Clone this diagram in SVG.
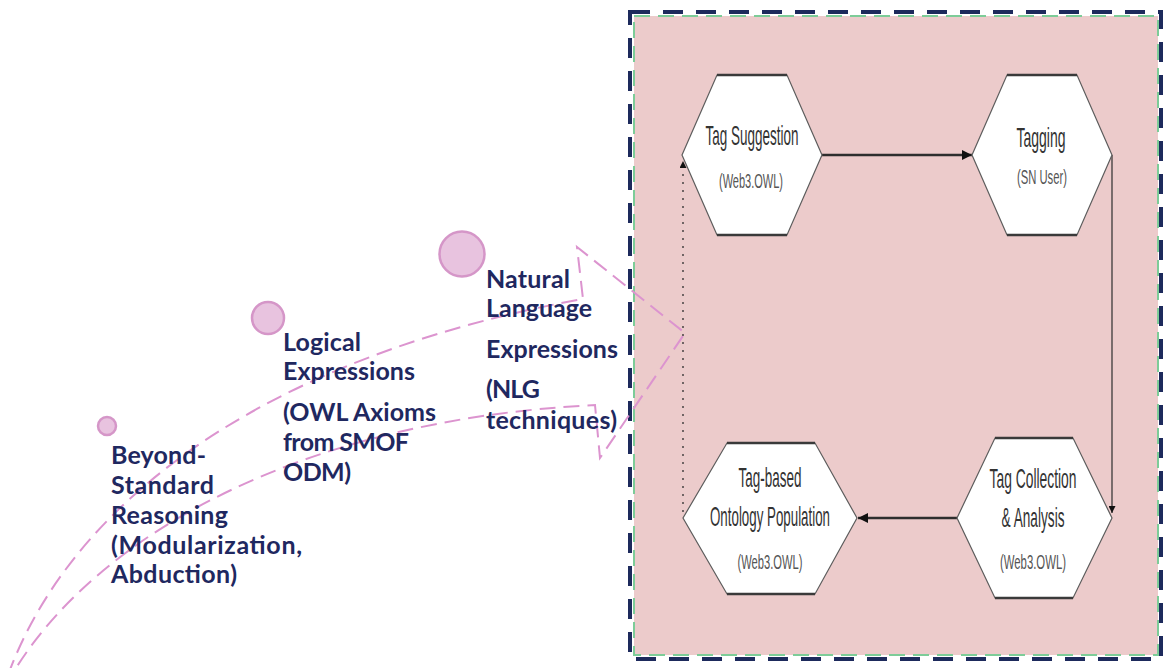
<svg xmlns="http://www.w3.org/2000/svg" width="1164" height="668" viewBox="0 0 1164 668">
  <style>
    .step { font-family: "Lato", "Liberation Sans", sans-serif; font-weight: 700; font-size: 25px; fill: #1f2860; }
    .dot { fill: #e8c3df; stroke: #d596c8; stroke-width: 2.5; }
    .flow { fill: none; stroke: #dc94cf; stroke-width: 2; stroke-dasharray: 16 8; }
    .hex { fill: #ffffff; stroke: #5c5c5c; stroke-width: 1.2; }
    .hex-edge { stroke: #3a3a3a; stroke-width: 2.5; }
    .lbl { font-family: "Liberation Sans", Arial, sans-serif; font-size: 28px; fill: #333333; text-anchor: middle; }
    .sub { font-family: "Liberation Sans", Arial, sans-serif; font-size: 21px; fill: #555555; text-anchor: middle; }
    .conn { fill: none; stroke: #2e2e2e; }
  </style>
  <defs>
    <marker id="arrowBold" viewBox="0 0 10 10" refX="10" refY="5" markerWidth="10" markerHeight="10" markerUnits="userSpaceOnUse" orient="auto">
      <path d="M0,0 L10,5 L0,10 z" fill="#111111"/>
    </marker>
    <marker id="arrowThin" viewBox="0 0 10 10" refX="10" refY="5" markerWidth="15" markerHeight="7" markerUnits="userSpaceOnUse" orient="auto">
      <path d="M0,0 L10,5 L0,10 z" fill="#111111"/>
    </marker>
  </defs>

  <!-- framed process area -->
  <g id="process-frame">
    <rect x="634" y="16" width="524" height="639" fill="#eccbcb" stroke="#7dcc98" stroke-width="2" stroke-dasharray="16 8"/>
    <rect x="630" y="12" width="531" height="647" fill="none" stroke="#1d2a5c" stroke-width="4" stroke-dasharray="20 13"/>
  </g>

  <!-- dashed curved arrow of levels -->
  <g id="level-arrow">
    <path class="flow" d="M 8 675 C 80 480, 300 350, 583 299 L 577 247 L 685 333 L 600 458 L 595 405 C 300 420, 100 535, 16 668"/>
  </g>

  <g id="level-beyond">
    <circle class="dot" cx="107" cy="426" r="9"/>
    <text class="step" x="111" y="464" textLength="95">Beyond-</text>
    <text class="step" x="111" y="494" textLength="103">Standard</text>
    <text class="step" x="111" y="524" textLength="117">Reasoning</text>
    <text class="step" x="111" y="554" textLength="191">(Modularization,</text>
    <text class="step" x="111" y="583" textLength="126">Abduction)</text>
  </g>

  <g id="level-logical">
    <circle class="dot" cx="268" cy="318" r="16"/>
    <text class="step" x="283" y="351" textLength="78">Logical</text>
    <text class="step" x="283" y="380" textLength="132">Expressions</text>
    <text class="step" x="283" y="421" textLength="153">(OWL Axioms</text>
    <text class="step" x="283" y="451" textLength="126">from SMOF</text>
    <text class="step" x="283" y="481" textLength="68">ODM)</text>
  </g>

  <g id="level-natural">
    <circle class="dot" cx="462" cy="254" r="22.5"/>
    <text class="step" x="486" y="288" textLength="84">Natural</text>
    <text class="step" x="486" y="317" textLength="106">Language</text>
    <text class="step" x="486" y="358" textLength="132">Expressions</text>
    <text class="step" x="486" y="398" textLength="54">(NLG</text>
    <text class="step" x="486" y="429" textLength="131">techniques)</text>
  </g>

  <!-- connectors between the process steps -->
  <g id="connectors">
    <path class="conn" d="M 822 155 H 972" stroke-width="2.6" marker-end="url(#arrowBold)"/>
    <path class="conn" d="M 1112 155 V 513" stroke-width="1.2" marker-end="url(#arrowThin)"/>
    <path class="conn" d="M 957 518 H 858" stroke-width="2.6" marker-end="url(#arrowBold)"/>
    <path class="conn" d="M 683 512 V 161" stroke="#808080" stroke-width="1.3" stroke-dasharray="2 6" marker-end="url(#arrowThin)"/>
  </g>

  <g id="tag-suggestion">
    <polygon class="hex" points="717,75 787,75 822,155 787,235 717,235 682,155"/>
    <line class="hex-edge" x1="717" y1="75" x2="787" y2="75"/>
    <line class="hex-edge" x1="717" y1="235" x2="787" y2="235"/>
    <text class="lbl" x="752" y="145" textLength="93" lengthAdjust="spacingAndGlyphs">Tag Suggestion</text>
    <text class="sub" x="751" y="188" textLength="64" lengthAdjust="spacingAndGlyphs">(Web3.OWL)</text>
  </g>

  <g id="tagging">
    <polygon class="hex" points="1007,75 1077,75 1112,155 1077,235 1007,235 972,155"/>
    <line class="hex-edge" x1="1007" y1="75" x2="1077" y2="75"/>
    <line class="hex-edge" x1="1007" y1="235" x2="1077" y2="235"/>
    <text class="lbl" x="1041" y="147" textLength="49" lengthAdjust="spacingAndGlyphs">Tagging</text>
    <text class="sub" x="1042" y="184" textLength="50" lengthAdjust="spacingAndGlyphs">(SN User)</text>
  </g>

  <g id="tag-collection">
    <polygon class="hex" points="995,438 1073,438 1112,518 1073,598 995,598 957,518"/>
    <line class="hex-edge" x1="995" y1="438" x2="1073" y2="438"/>
    <line class="hex-edge" x1="995" y1="598" x2="1073" y2="598"/>
    <text class="lbl" x="1033" y="488" textLength="87" lengthAdjust="spacingAndGlyphs">Tag Collection</text>
    <text class="lbl" x="1033" y="527" textLength="63" lengthAdjust="spacingAndGlyphs">&amp; Analysis</text>
    <text class="sub" x="1033" y="569" textLength="66" lengthAdjust="spacingAndGlyphs">(Web3.OWL)</text>
  </g>

  <g id="tag-ontology-population">
    <polygon class="hex" points="727,443 815,443 857,518 815,594 727,594 683,518"/>
    <line class="hex-edge" x1="727" y1="443" x2="815" y2="443"/>
    <line class="hex-edge" x1="727" y1="594" x2="815" y2="594"/>
    <text class="lbl" x="770" y="487" textLength="63" lengthAdjust="spacingAndGlyphs">Tag-based</text>
    <text class="lbl" x="770" y="526" textLength="120" lengthAdjust="spacingAndGlyphs">Ontology Population</text>
    <text class="sub" x="770" y="569" textLength="65" lengthAdjust="spacingAndGlyphs">(Web3.OWL)</text>
  </g>
</svg>
